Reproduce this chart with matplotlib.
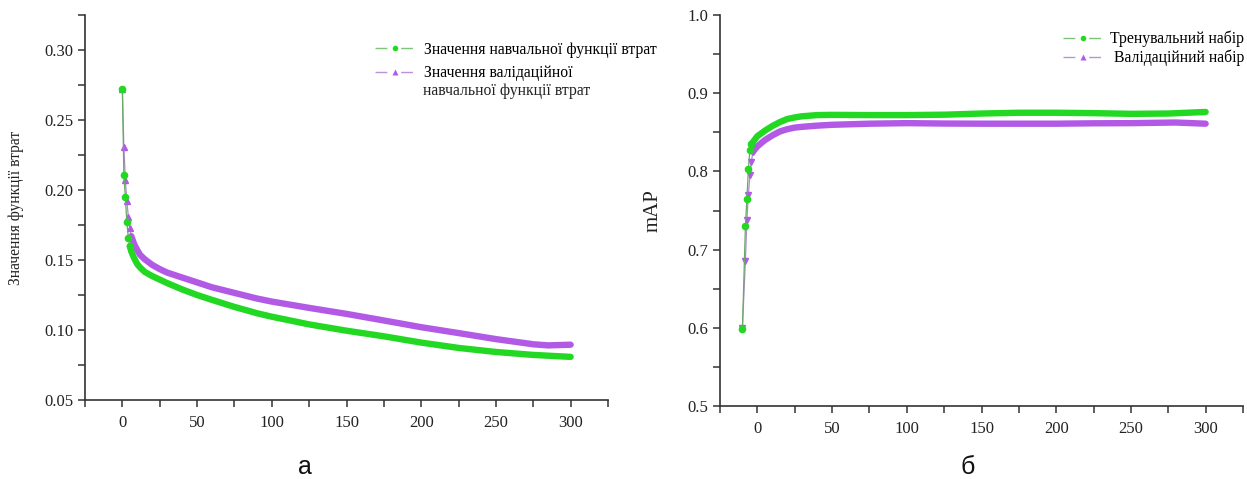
import matplotlib
matplotlib.use("Agg")
import matplotlib.pyplot as plt
from matplotlib.lines import Line2D
from matplotlib.ticker import MultipleLocator, FormatStrFormatter

# ---------------- data ----------------
# (a) loss
train_loss_epochs = [0, 1, 2, 3, 4, 5, 6, 8, 10, 12, 15, 20, 25, 30, 40, 50, 60, 75, 90,
                     100, 125, 150, 175, 200, 225, 250, 275, 300]
train_loss = [0.272, 0.211, 0.195, 0.177, 0.166, 0.160, 0.156, 0.151, 0.147, 0.1445, 0.1415,
              0.1385, 0.136, 0.1335, 0.129, 0.125, 0.1215, 0.1165, 0.112, 0.1095, 0.104,
              0.0995, 0.0955, 0.091, 0.0872, 0.0843, 0.0822, 0.0808]
val_loss_epochs = [0, 1, 2, 3, 4, 5, 6, 8, 10, 12, 15, 20, 25, 30, 40, 50, 60, 75, 90,
                   100, 125, 150, 175, 200, 225, 250, 275, 285, 300]
val_loss = [0.272, 0.231, 0.207, 0.192, 0.181, 0.173, 0.167, 0.161, 0.157, 0.1535, 0.1505,
            0.1465, 0.1435, 0.141, 0.1375, 0.134, 0.1305, 0.1265, 0.1225, 0.1203, 0.1158,
            0.1115, 0.1068, 0.102, 0.0978, 0.0935, 0.0898, 0.089, 0.0895]
train_loss_marked = 6   # first points drawn as separate markers
val_loss_marked = 7

# (b) mAP
train_map_epochs = [-10, -8, -7, -6, -5, -4, 0, 5, 10, 15, 20, 25, 30, 40, 50, 75, 100,
                    125, 150, 175, 200, 225, 250, 275, 300]
train_map = [0.598, 0.730, 0.765, 0.803, 0.827, 0.835, 0.845, 0.852, 0.858, 0.863, 0.867,
             0.869, 0.8705, 0.872, 0.8723, 0.872, 0.872, 0.8725, 0.874, 0.875, 0.875,
             0.8745, 0.8736, 0.874, 0.876]
val_map_epochs = [-10, -8, -7, -6, -5, -4, -3, 0, 5, 10, 15, 20, 25, 30, 40, 50, 75, 100,
                  125, 150, 175, 200, 225, 250, 280, 300]
val_map = [0.600, 0.686, 0.738, 0.770, 0.795, 0.812, 0.825, 0.832, 0.840, 0.846, 0.851,
           0.854, 0.856, 0.857, 0.8585, 0.8596, 0.861, 0.8617, 0.8612, 0.861, 0.861,
           0.861, 0.8615, 0.8617, 0.8625, 0.861]
train_map_marked = 6
val_map_marked = 7

legend_a = ["Значення навчальної функції втрат", "Значення валідаційної"]
legend_a_cont = "навчальної функції втрат"
legend_b = ["Тренувальний набір", " Валідаційний набір"]
ylabel_a = "Значення функції втрат"
ylabel_b = "mAP"
caption_a = "а"
caption_b = "б"

# ---------------- style ----------------
GREEN = "#22d822"
PURPLE = "#b25ae6"
GREEN_THIN = "#6aa86a"
PURPLE_THIN = "#a990c4"
GREEN_LEG = "#7cc47c"
PURPLE_LEG = "#bd90d8"
AXCOL = "#333333"
SERIF = ["Liberation Serif", "DejaVu Serif"]
SANS = ["Liberation Sans", "DejaVu Sans"]
LEG_FS = 11.3

plt.rcParams["font.family"] = SERIF

fig = plt.figure(figsize=(12.47, 4.79), dpi=100)
ax1 = fig.add_axes([85 / 1247, 79 / 479, 523 / 1247, 385 / 479])
ax2 = fig.add_axes([720 / 1247, 73 / 479, 523 / 1247, 391 / 479])


def style_axes(ax):
    for s in ("top", "right"):
        ax.spines[s].set_visible(False)
    for s in ("left", "bottom"):
        ax.spines[s].set_color(AXCOL)
        ax.spines[s].set_linewidth(1.2)
    ax.tick_params(which="both", direction="out", length=5, width=1.1,
                   color=AXCOL, labelsize=12, labelcolor="#222222")
    ax.tick_params(axis="x", pad=6)
    ax.xaxis.set_major_locator(MultipleLocator(50))
    ax.xaxis.set_minor_locator(MultipleLocator(25))


def draw_series(ax, x, y, n_marked, color, thin, marker, ms, z):
    ax.plot(x[:n_marked + 1], y[:n_marked + 1], color=thin, lw=0.9, zorder=z)
    ax.plot(x[:n_marked], y[:n_marked], ls="none", marker=marker, ms=ms,
            color=color, mec=color, zorder=z + 0.5)
    ax.plot(x[n_marked - 1:], y[n_marked - 1:], color=color, lw=4.6,
            solid_capstyle="round", solid_joinstyle="round", zorder=z + 0.5)


def handles(marker2):
    return [Line2D([0], [0], color=GREEN_LEG, lw=1.0, ls=(0, (8.5, 10)), marker="o",
                   ms=4, mfc=GREEN, mec="none"),
            Line2D([0], [0], color=PURPLE_LEG, lw=1.0, ls=(0, (8.5, 10)), marker=marker2,
                   ms=4, mfc=PURPLE, mec="none")]


# ---- (a)
style_axes(ax1)
draw_series(ax1, val_loss_epochs, val_loss, val_loss_marked, PURPLE, PURPLE_THIN, "^", 4.5, 2)
draw_series(ax1, train_loss_epochs, train_loss, train_loss_marked, GREEN, GREEN_THIN, "o", 4.5, 3)
ax1.set_xlim(-25, 325)
ax1.set_ylim(0.05, 0.325)
ax1.yaxis.set_major_locator(MultipleLocator(0.05))
ax1.yaxis.set_minor_locator(MultipleLocator(0.025))
ax1.yaxis.set_major_formatter(FormatStrFormatter("%.2f"))
ax1.set_ylabel(ylabel_a, fontsize=11.2, labelpad=14, color="#222222")
ax1.legend(handles("^"), legend_a, loc="upper left", bbox_to_anchor=(0.5545, 0.931),
           frameon=False, fontsize=LEG_FS, handlelength=2.5, handletextpad=0.65,
           borderpad=0, borderaxespad=0, labelspacing=0.5)
ax1.text(0.6463, (400 - 91) / 385, legend_a_cont, transform=ax1.transAxes,
         fontsize=LEG_FS, ha="left", va="center", color="#222222")

# ---- (b)
style_axes(ax2)
draw_series(ax2, val_map_epochs, val_map, val_map_marked, PURPLE, PURPLE_THIN, "v", 4.5, 2)
draw_series(ax2, train_map_epochs, train_map, train_map_marked, GREEN, GREEN_THIN, "o", 4.5, 3)
ax2.set_xlim(-25, 325)
ax2.set_ylim(0.5, 1.0)
ax2.yaxis.set_major_locator(MultipleLocator(0.1))
ax2.yaxis.set_minor_locator(MultipleLocator(0.05))
ax2.yaxis.set_major_formatter(FormatStrFormatter("%.1f"))
ax2.set_ylabel(ylabel_b, fontsize=15, labelpad=18, color="#222222")
ax2.legend(handles("^"), legend_b, loc="upper left", bbox_to_anchor=(0.656, 0.960),
           frameon=False, fontsize=LEG_FS, handlelength=2.5, handletextpad=0.5,
           borderpad=0, borderaxespad=0, labelspacing=0.15)

fig.text(305 / 1247, 1 - 467 / 479, caption_a, family=SANS, fontsize=18,
         ha="center", va="center", color="#111111")
fig.text(968 / 1247, 1 - 467 / 479, caption_b, family=SANS, fontsize=18,
         ha="center", va="center", color="#111111")

fig.savefig("out.png", dpi=100, facecolor="white")
